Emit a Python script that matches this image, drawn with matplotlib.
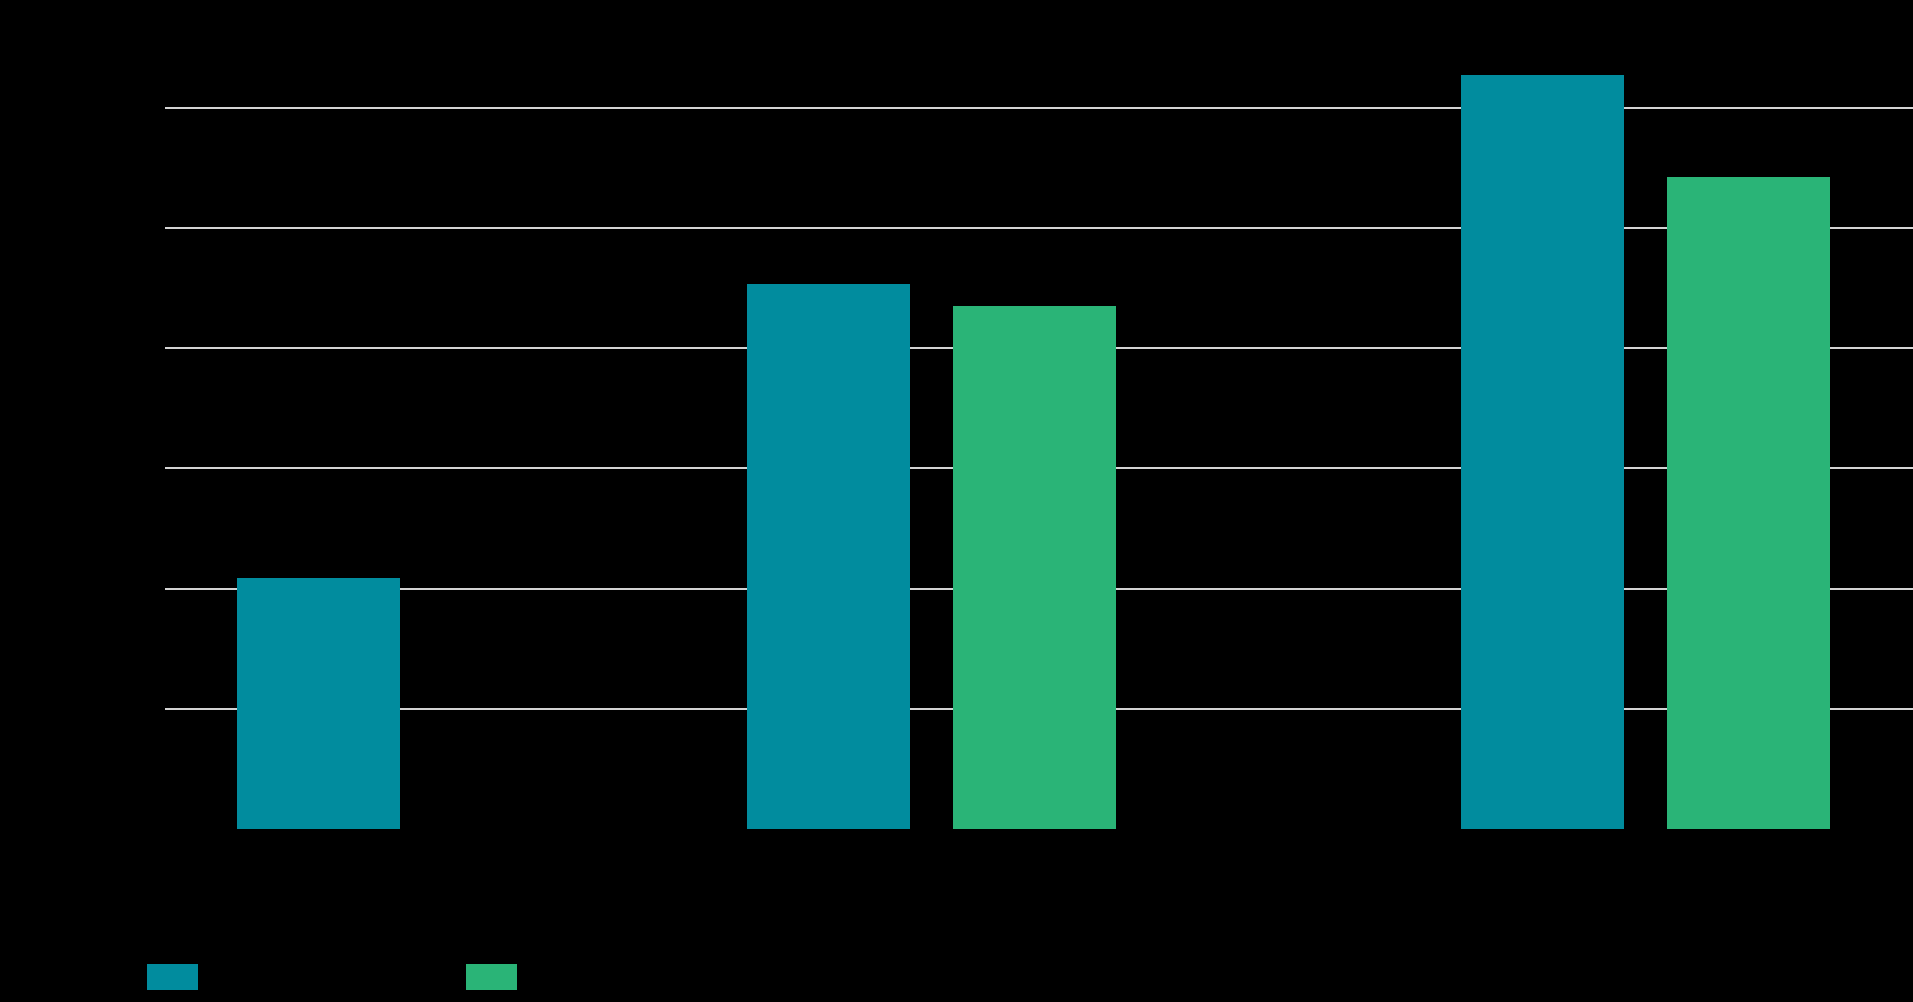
import matplotlib
matplotlib.use("Agg")
from matplotlib import pyplot as plt
from matplotlib.patches import Patch
import numpy as np

# datos (unidades = lineas de la grilla)
posiciones = [0, 5, 12]
serie_azul = [2.09, 4.53, 6.27]
serie_verde = [np.nan, 4.35, 5.42]
niveles_grilla = [1, 2, 3, 4, 5, 6]

color_azul = "#018C9E"
color_verde = "#2AB477"

fig = plt.figure(figsize=(19.13, 10.03), dpi=100, facecolor="black")
ax = fig.add_axes([0.0861, 0.1725, 0.9139, 0.7791])
ax.set_facecolor("black")

x = np.array(posiciones, dtype=float)
ancho = 1.6
ax.bar(x - 1.0, serie_azul, width=ancho, color=color_azul, zorder=3)
ax.bar(x + 1.02, serie_verde, width=ancho, color=color_verde, zorder=3)

for nivel in niveles_grilla:
    ax.axhline(nivel, color="#d9d9d9", linewidth=1.4, zorder=1)

ax.set_xlim(-2.51, 14.63)
ax.set_ylim(0, 6.5)
ax.set_xticks([])
ax.set_yticks([])
for s in ax.spines.values():
    s.set_visible(False)

# leyenda: solo cuadros de color, sin texto visible
manijas = [Patch(facecolor=color_azul), Patch(facecolor=color_verde)]
fig.legend(manijas, ["", ""], loc="lower left", bbox_to_anchor=(0.0705, 0.0),
           ncol=2, frameon=False, fontsize=14, handlelength=2.63,
           handleheight=1.7, handletextpad=0.0, columnspacing=13.8,
           borderpad=0.1)

fig.savefig("out.png", dpi=100, facecolor="black")
